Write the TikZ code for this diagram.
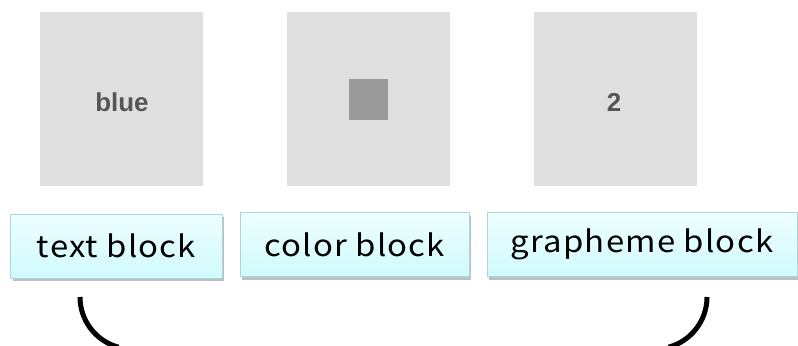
\documentclass[tikz,border=0pt]{standalone}
\usepackage{fontspec}
\setmainfont{Liberation Sans}
\newfontfamily\jpfont[FakeStretch=1.1,LetterSpace=4]{Noto Sans CJK JP}
\usetikzlibrary{shadows}
\definecolor{sqgray}{HTML}{DFDFDF}
\definecolor{swatch}{HTML}{9A9A9A}
\definecolor{inktext}{HTML}{555555}
\definecolor{lblborder}{HTML}{A8D8DC}
\definecolor{lbltop}{HTML}{EEFEFF}
\definecolor{lblbot}{HTML}{D0FAFD}
\tikzset{
  stimbox/.style={draw=none, fill=sqgray, minimum width=163bp, minimum height=174bp, inner sep=0pt},
  stimtext/.style={text=inktext, font=\bfseries\fontsize{26}{30}\selectfont, inner sep=0pt},
  lblbox/.style={draw=lblborder, line width=1bp, top color=lbltop, bottom color=lblbot,
    minimum height=64bp, inner sep=0pt, font=\jpfont\fontsize{30}{34}\selectfont,
    drop shadow={shadow xshift=2bp, shadow yshift=-3bp, fill=black, opacity=0.25}},
  bracket/.style={line width=5bp, black}
}
\begin{document}
\begin{tikzpicture}[x=1bp,y=-1bp]
\useasboundingbox (0,0) rectangle (798,345);
\begin{scope}
\clip (0,0) rectangle (798,345);
% stimulus squares
\node[stimbox] (sq1) at (121.5,99) {};
\node[stimbox] (sq2) at (368.5,99) {};
\node[stimbox] (sq3) at (615,99) {};
\node[stimtext] (blue) at (122,102) {blue};
\node[fill=swatch, minimum width=39bp, minimum height=41bp, inner sep=0pt] (sw) at (368.5,99.5) {};
\node[stimtext] (two) at (614,102) {2};
% label boxes
\node[lblbox, minimum width=211bp] (lt) at (116.5,246) {text block};
\node[lblbox, minimum width=229bp] (lc) at (354.5,244.5) {color block};
\node[lblbox, minimum width=310bp] (lg) at (642,244.5) {grapheme block};
% brackets
\draw[bracket] (80,297) arc[start angle=180, end angle=105, radius=52];
\draw[bracket] (707,297) arc[start angle=0, end angle=75, radius=52];
\end{scope}
\end{tikzpicture}
\end{document}
